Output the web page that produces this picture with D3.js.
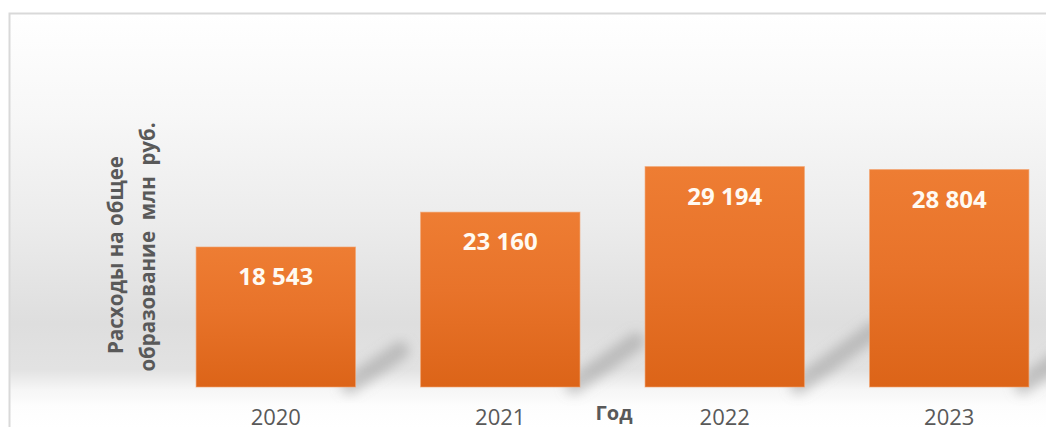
<!DOCTYPE html>
<html>
<head>
<meta charset="utf-8">
<script src="https://cdn.jsdelivr.net/npm/d3@7"></script>
<style>
  body { margin: 0; background: #fff; }
  svg { display: block; font-family: "Open Sans", sans-serif; }
</style>
</head>
<body>
<svg id="chart" width="1046" height="427"></svg>
<script>
// data
const years = ['2020', '2021', '2022', '2023'];
const spending = [18543, 23160, 29194, 28804];
const yTitleLines = ['Расходы на общее', 'образование  млн  руб.'];
const xTitle = 'Год';

const svg = d3.select('#chart');
const defs = svg.append('defs');

// background gradient of the chart area
const bg = defs.append('linearGradient')
    .attr('id', 'bg-grad')
    .attr('gradientUnits', 'userSpaceOnUse')
    .attr('x1', 0).attr('y1', 14).attr('x2', 0).attr('y2', 427);
[[0, '#ffffff'], [0.25, '#f7f7f7'], [0.5, '#ececec'], [0.75, '#dedede'],
 [0.86, '#e2e2e2'], [0.91, '#f6f6f6'], [0.95, '#fdfdfd'], [1, '#ffffff']]
    .forEach(([o, c]) => bg.append('stop').attr('offset', o).attr('stop-color', c));

// bar gradient
const barGrad = defs.append('linearGradient')
    .attr('id', 'bar-grad')
    .attr('x1', 0).attr('y1', 0).attr('x2', 0).attr('y2', 1);
barGrad.append('stop').attr('offset', 0).attr('stop-color', '#ee7d33');
barGrad.append('stop').attr('offset', 0.45).attr('stop-color', '#e8732a');
barGrad.append('stop').attr('offset', 1).attr('stop-color', '#dc6418');

defs.append('filter')
    .attr('id', 'blur')
    .attr('x', '-50%').attr('y', '-50%').attr('width', '200%').attr('height', '200%')
    .append('feGaussianBlur')
    .attr('stdDeviation', 6);

// chart frame
svg.append('rect')
    .attr('x', 9.5)
    .attr('y', 13.5)
    .attr('width', 1100)
    .attr('height', 500)
    .attr('fill', 'url(#bg-grad)')
    .attr('stroke', '#d9d9d9')
    .attr('stroke-width', 2);

const baseY = 387;

const xScale = d3.scaleBand()
    .domain(years)
    .range([131, 1094])
    .padding(0.29);

const yScale = d3.scaleLinear()
    .domain([0, 35000])
    .range([baseY, baseY - 0.00755 * 35000]);

const data = years.map((y, i) => ({ year: y, value: spending[i] }));

const ru = d3.formatLocale({ decimal: ',', thousands: ' ', grouping: [3], currency: ['', ''] });
const fmt = ru.format(',d');

// perspective shadows on the floor
svg.append('g')
    .selectAll('path')
    .data(data)
    .enter()
    .append('path')
    .attr('d', d => {
        const x1 = xScale(d.year) + xScale.bandwidth();
        const h = baseY - yScale(d.value);
        return `M${x1 - 6},${baseY - 2} L${x1 + h * 0.32},${baseY - h * 0.26}`;
    })
    .attr('stroke', '#8f8f8f')
    .attr('stroke-opacity', 0.45)
    .attr('stroke-width', 18)
    .attr('stroke-linecap', 'round')
    .attr('fill', 'none')
    .attr('filter', 'url(#blur)');

// bars
svg.append('g')
    .selectAll('rect')
    .data(data)
    .enter()
    .append('rect')
    .attr('x', d => xScale(d.year))
    .attr('y', d => yScale(d.value))
    .attr('width', xScale.bandwidth())
    .attr('height', d => baseY - yScale(d.value))
    .attr('fill', 'url(#bar-grad)')
    .attr('stroke', '#f3a26c')
    .attr('stroke-opacity', 0.6)
    .attr('stroke-width', 1);

// value labels
svg.append('g')
    .selectAll('text')
    .data(data)
    .enter()
    .append('text')
    .attr('x', d => xScale(d.year) + xScale.bandwidth() / 2)
    .attr('y', d => yScale(d.value) + 38)
    .attr('text-anchor', 'middle')
    .style('font-size', '24px')
    .style('font-weight', 'bold')
    .style('fill', '#fffaf2')
    .text(d => fmt(d.value));

// x axis: labels only
const xAxis = svg.append('g')
    .attr('transform', `translate(0,${baseY})`)
    .call(d3.axisBottom(xScale).tickSize(0));
xAxis.select('.domain').remove();
xAxis.selectAll('text')
    .attr('y', 38)
    .attr('dy', null)
    .style('font-family', '"Open Sans", sans-serif')
    .style('font-size', '22px')
    .style('fill', '#595959');

// x title
svg.append('text')
    .attr('x', 614)
    .attr('y', 420)
    .attr('text-anchor', 'middle')
    .style('font-size', '20px')
    .style('font-weight', 'bold')
    .style('fill', '#595959')
    .text(xTitle);

// y title, two rotated lines
const yTitlePos = [[123, 255], [155, 247]];
svg.append('g')
    .selectAll('text')
    .data(yTitleLines)
    .enter()
    .append('text')
    .attr('transform', (d, i) => `translate(${yTitlePos[i][0]},${yTitlePos[i][1]}) rotate(-90)`)
    .attr('text-anchor', 'middle')
    .style('white-space', 'pre')
    .style('font-size', '20.5px')
    .style('font-weight', 'bold')
    .style('fill', '#595959')
    .text(d => d);
</script>
</body>
</html>
